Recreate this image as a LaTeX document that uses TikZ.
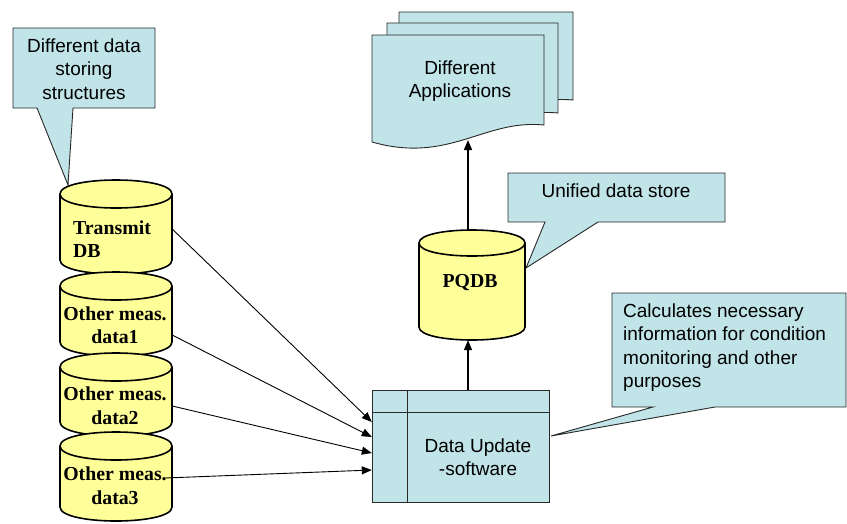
\documentclass[tikz,border=0pt]{standalone}
\usepackage{fontspec}
\setmainfont{Liberation Serif}
\setsansfont{Liberation Sans}
\usetikzlibrary{arrows.meta,calc}
\definecolor{callcyan}{RGB}{192,228,232}
\definecolor{dbyellow}{RGB}{255,255,153}
\definecolor{edgegray}{RGB}{40,40,40}
\tikzset{
  callout/.style={fill=callcyan,draw=edgegray,line width=0.9pt,line join=miter},
  docshape/.style={fill=callcyan,draw=edgegray,line width=0.9pt},
  cylbody/.style={fill=dbyellow,draw=black,line width=1.6pt},
  sanstext/.style={font=\sffamily\fontsize{19}{23.5}\selectfont,inner sep=0pt},
  dbtext/.style={font=\rmfamily\bfseries\fontsize{19.8}{23.5}\selectfont,inner sep=0pt},
  holder/.style={draw=none,rectangle,inner sep=0pt},
  feed/.style={-{Triangle[length=10pt,width=8pt]},line width=0.9pt,black},
  upflow/.style={-{Triangle[length=10pt,width=8pt]},line width=1.6pt,black}
}
% cylinder: #1 left, #2 right, #3 top, #4 bottom, #5 radius y
\newcommand\dbcylinder[5]{%
  \pgfmathsetmacro\cyA{#3+#5}%
  \pgfmathsetmacro\cyB{#4-#5}%
  \pgfmathsetmacro\cyK{1.3333*#5}%
  \path[cylbody] (#1,\cyA) -- (#1,\cyB) .. controls (#1,\cyB+\cyK) and (#2,\cyB+\cyK) .. (#2,\cyB)
     -- (#2,\cyA) .. controls (#2,\cyA-\cyK) and (#1,\cyA-\cyK) .. (#1,\cyA) -- cycle;
  \draw[cylbody,fill=none] (#1,\cyA) .. controls (#1,\cyA+\cyK) and (#2,\cyA+\cyK) .. (#2,\cyA);
}
% document with wavy bottom: #1 left, #2 right, #3 top, #4 bottom-left y, #5 bottom-right y
\newcommand\docsheet[5]{%
  \path[docshape] (#1,#3) -- (#2,#3) -- (#2,#5)
     .. controls ($(#2,#5)!0.35!(#1,#5)+(0,-6)$) and ($(#1,#4)!0.45!(#2,#4)+(0,22)$) .. (#1,#4) -- cycle;
}
\begin{document}
\begin{tikzpicture}[x=1pt,y=-1pt]
\useasboundingbox (0,0) rectangle (847,523);

% ---------- callout: different data storing structures
\path[callout] (13,28) -- (155,28) -- (155,108) -- (73,108) -- (68,185) -- (37,108) -- (13,108) -- cycle;
\node[sanstext,align=center] (c1) at (84,69) {Different data\\storing\\structures};

% ---------- left databases
\dbcylinder{60}{172}{180}{274}{14}
\node[holder,minimum width=112pt,minimum height=94pt] (tdb) at (116,227) {};
\node[dbtext,align=left,anchor=west] (tdbt) at (73,239) {Transmit\\DB};

\dbcylinder{60}{172}{272}{356}{14}
\node[holder,minimum width=112pt,minimum height=84pt] (dm1) at (116,314) {};
\node[dbtext,align=center] (dm1t) at (115,325) {Other meas.\\data1};

\dbcylinder{60}{172}{353}{436}{14}
\node[holder,minimum width=112pt,minimum height=83pt] (dm2) at (116,394.5) {};
\node[dbtext,align=center] (dm2t) at (115,405.5) {Other meas.\\data2};

\dbcylinder{60}{172}{432}{521}{14}
\node[holder,minimum width=112pt,minimum height=89pt] (dm3) at (116,476.5) {};
\node[dbtext,align=center] (dm3t) at (115,485.5) {Other meas.\\data3};

% ---------- data update software box
\path[fill=callcyan,draw=edgegray,line width=1pt] (372,390) rectangle (549,502);
\node[holder,minimum width=177pt,minimum height=112pt] (du) at (460.5,446) {};
\draw[edgegray,line width=1pt] (407,390) -- (407,502);
\draw[edgegray,line width=1pt] (372,412) -- (549,412);
\node[sanstext,align=center] (dut) at (478,457) {Data Update\\-software};

% ---------- PQDB
\dbcylinder{419}{525}{230}{340}{13}
\node[holder,minimum width=106pt,minimum height=110pt] (pq) at (472,285) {};
\node[dbtext] (pqt) at (470,283) {PQDB};

% ---------- applications documents
\docsheet{399}{573}{12}{120}{100}
\docsheet{387}{558}{23}{131}{113}
\docsheet{372}{544}{35}{142}{125}
\node[sanstext,align=center] (app) at (460,81) {Different\\Applications};
\coordinate (appbot) at (468,140);

% ---------- unified data store callout
\path[callout] (508,173) -- (725,173) -- (725,222) -- (598,222) -- (526,268) -- (545,222) -- (508,222) -- cycle;
\node[sanstext] (c2) at (616,191) {Unified data store};

% ---------- calculates callout
\path[callout] (612,293) -- (846,293) -- (846,407) -- (715,407) -- (551,436) -- (653,407) -- (612,407) -- cycle;
\node[sanstext,align=left,anchor=west] (c3) at (623,347.5) {Calculates necessary\\information for condition\\monitoring and other\\purposes};

% ---------- connectors
\draw[feed] ($(tdb.east)+(0,2)$) -- ($(du.west)+(0,-24)$);
\draw[feed] ($(dm1.east)+(0,21)$) -- ($(du.west)+(0,-9)$);
\draw[feed] ($(dm2.east)+(0,11.5)$) -- ($(du.west)+(0,7)$);
\draw[feed] ($(dm3.east)+(-7,1.5)$) -- ($(du.west)+(0,24)$);
\draw[upflow] ($(du.north)+(7.5,0)$) coordinate (duup) -- (duup |- pq.south);
\draw[upflow] ($(pq.north)+(-4,0)$) coordinate (pqup) -- (appbot);
\end{tikzpicture}
\end{document}
